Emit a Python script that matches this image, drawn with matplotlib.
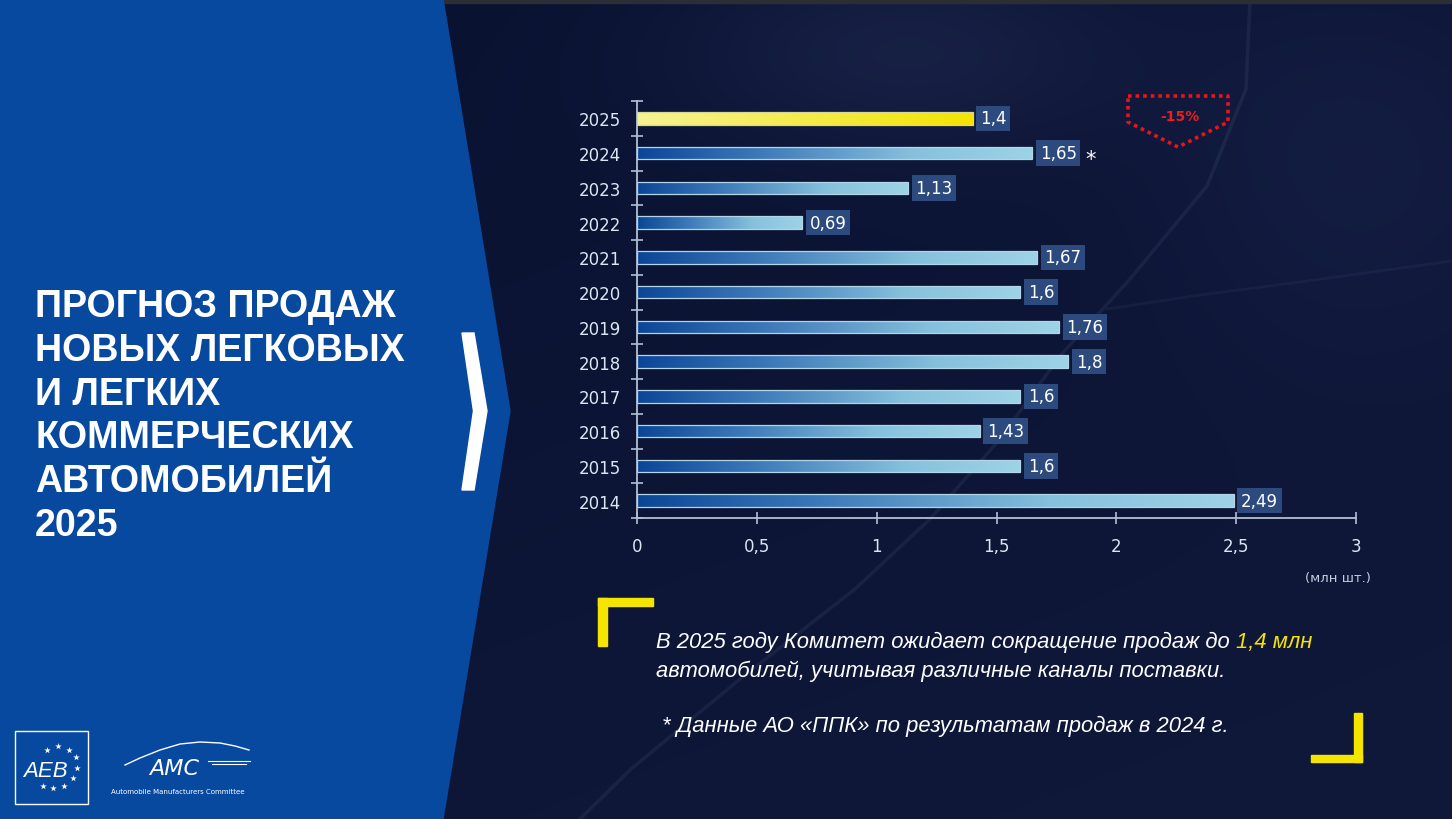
import numpy as np
import matplotlib
matplotlib.use('Agg')
import matplotlib.pyplot as plt
from matplotlib.patches import Polygon, Rectangle
from matplotlib.colors import LinearSegmentedColormap
from matplotlib.lines import Line2D

# ---------------- data ----------------
years = ['2025', '2024', '2023', '2022', '2021', '2020', '2019', '2018', '2017', '2016', '2015', '2014']
values = [1.4, 1.65, 1.13, 0.69, 1.67, 1.6, 1.76, 1.8, 1.6, 1.43, 1.6, 2.49]
value_labels = ['1,4', '1,65', '1,13', '0,69', '1,67', '1,6', '1,76', '1,8', '1,6', '1,43', '1,6', '2,49']
highlight_year = '2025'
starred_year = '2024'
x_ticks = [0, 0.5, 1, 1.5, 2, 2.5, 3]
x_tick_labels = ['0', '0,5', '1', '1,5', '2', '2,5', '3']
title_lines = ['ПРОГНОЗ ПРОДАЖ', 'НОВЫХ ЛЕГКОВЫХ', 'И ЛЕГКИХ', 'КОММЕРЧЕСКИХ', 'АВТОМОБИЛЕЙ', '2025']
change_label = '-15%'
unit_label = '(млн шт.)'
note1_white = 'В 2025 году Комитет ожидает сокращение продаж до'
note1_yellow = '1,4 млн'
note2 = 'автомобилей, учитывая различные каналы поставки.'
note3 = '* Данные АО «ППК» по результатам продаж в 2024 г.'

W, H = 1452, 820
fig = plt.figure(figsize=(W / 100, H / 100), dpi=100)
bg = fig.add_axes([0, 0, 1, 1])
bg.set_xlim(0, W)
bg.set_ylim(H, 0)
bg.axis('off')

# ---------------- background ----------------
yy, xx = np.mgrid[0:H:4, 0:W:4].astype(float)
base = np.array([0.035, 0.068, 0.19])
img = np.ones(yy.shape + (3,)) * base
img += ((yy / H) * 0.6 + (xx / W) * 0.4)[..., None] * np.array([0.03, 0.03, 0.04])
g = np.exp(-(((xx - 900) / 220) ** 2 + ((yy - 50) / 100) ** 2))
img += g[..., None] * np.array([0.045, 0.05, 0.065])
g2 = np.exp(-(((xx - 1350) / 200) ** 2 + ((yy - 150) / 200) ** 2))
img += g2[..., None] * np.array([0.025, 0.03, 0.045])
bg.imshow(np.clip(img, 0, 1), extent=[0, W, H, 0], aspect='auto', interpolation='bilinear', zorder=0)

# faint streaks
sx = [1250, 1246, 1207, 1130, 1060, 1000, 930, 855, 740, 631, 580]
sy = [0, 90, 187, 280, 357, 440, 520, 590, 680, 770, 820]
bg.plot(sx, sy, color=(0.55, 0.65, 0.8), alpha=0.09, lw=2.5, zorder=0.5)
bg.plot([1107, 1200, 1300, 1452], [310, 296, 283, 262], color=(0.55, 0.65, 0.8), alpha=0.06, lw=2, zorder=0.5)
bg.add_patch(Rectangle((443, 0), W - 443, 4, color='#2b2e35', zorder=0.6))

# left panel
bg.add_patch(Polygon([(0, 0), (443, 0), (510, 412), (443, 820), (0, 820)], closed=True,
                     color='#0849a0', zorder=1))
bg.add_patch(Polygon([(462, 334), (474, 334), (487, 412), (474, 491), (462, 491), (473.5, 412)],
                     closed=True, color='white', zorder=2))

# title
title_texts = []
baselines = [317, 361, 405, 448, 492, 536]
for ln, b in zip(title_lines, baselines):
    t = bg.text(35, b, ln, fontsize=27, fontweight='bold', color='white',
                family=['Liberation Sans', 'DejaVu Sans'], va='baseline', ha='left', zorder=3)
    title_texts.append(t)

# logos
bg.add_patch(Rectangle((15, 732), 73, 73, fill=False, ec='white', lw=1, zorder=3))
bg.text(45, 777, 'AEB', fontsize=16, style='italic', color='white',
        family='Liberation Sans', ha='center', va='baseline', zorder=3)
star_x = [47, 58, 69, 76, 77, 73, 64, 53, 43]
star_y = [751, 747, 751, 758, 769, 779, 787, 789, 787]
bg.scatter(star_x, star_y, marker='*', s=24, color='white', linewidths=0, zorder=3)
bg.plot([125, 140, 160, 180, 200, 220, 235, 249], [766, 759, 751, 745, 743, 744, 747, 751],
        color='white', lw=1, zorder=3)
bg.plot([208, 250], [762, 762], color='white', lw=0.8, zorder=3)
bg.plot([212, 246], [765, 765], color='white', lw=0.8, zorder=3)
bg.text(174, 775, 'AMC', fontsize=16, style='italic', color='white',
        family='DejaVu Sans', fontweight='light', ha='center', va='baseline', zorder=3)
bg.text(178, 792, 'Automobile Manufacturers Committee', fontsize=5, color='white',
        family='DejaVu Sans', ha='center', va='center', zorder=3)

# -15% badge
bx = [1128, 1228, 1228, 1178, 1128, 1128]
by = [97, 97, 123, 148, 123, 97]
bg.add_line(Line2D(bx, by, color='#e8141c', lw=2.6, linestyle=(0, (1, 1.1)), zorder=3))
bg.text(1180, 117, change_label, fontsize=10, fontweight='bold', color='#f01c1c',
        family='DejaVu Sans', ha='center', va='center', zorder=3)

# unit label
bg.text(1338, 579, unit_label, fontsize=9.5, color='#c5cedb', family='DejaVu Sans',
        ha='center', va='center', zorder=3)

# yellow brackets
ycol = '#f5e400'
for (x0, y0, w, h) in [(598, 599, 8.5, 48), (598, 599, 55, 7.5), (1354, 714, 8, 49), (1311, 756, 51, 7)]:
    bg.add_patch(Rectangle((x0, y0), w, h, color=ycol, zorder=3))

# notes
fam_note = ['Liberation Sans', 'DejaVu Sans']
n1w = bg.text(656, 648, note1_white, fontsize=14, style='italic', color='white', family=fam_note,
              ha='left', va='baseline', zorder=3)
n1y = bg.text(656, 648, note1_yellow, fontsize=14, style='italic', color=ycol, family=fam_note,
              ha='left', va='baseline', zorder=3)
n2 = bg.text(656, 677, note2, fontsize=14, style='italic', color='white', family=fam_note,
             ha='left', va='baseline', zorder=3)
n3 = bg.text(662, 732, note3, fontsize=14, style='italic', color='white', family=fam_note,
             ha='left', va='baseline', zorder=3)

# ---------------- chart ----------------
ax = fig.add_axes([637 / W, 1 - 519 / H, (1356 - 637) / W, (519 - 102) / H])
ax.patch.set_alpha(0)
pos = np.arange(len(years))
bar_h = 0.36
blue_cm = LinearSegmentedColormap.from_list('b', [(0, '#0a4696'), (0.3, '#3b78b8'),
                                                   (0.7, '#86c1dc'), (1, '#9dd3e6')])
yel_cm = LinearSegmentedColormap.from_list('y', [(0, '#f6f394'), (1, '#f3e400')])
grad = np.linspace(0, 1, 256)[None, :]
bars = ax.barh(pos, values, height=bar_h, color='none', edgecolor='#b4d4e8', linewidth=0.9, zorder=3)
for p, v, yr, bar in zip(pos, values, years, bars):
    cm = yel_cm if yr == highlight_year else blue_cm
    if yr == highlight_year:
        bar.set_edgecolor('#d8d890')
    im = ax.imshow(grad, extent=[0, v, p + bar_h / 2, p - bar_h / 2], cmap=cm, aspect='auto',
                   interpolation='bicubic', zorder=2)
    im.set_clip_path(bar)

for p, v, lab, yr in zip(pos, values, value_labels, years):
    ax.annotate(lab, xy=(v, p), xytext=(5.3, 0), textcoords='offset points', ha='left', va='center',
                color='white', fontsize=12, family='DejaVu Sans',
                bbox=dict(boxstyle='square,pad=0.22', fc='#2c4a7e', ec='none'), zorder=5)
    if yr == starred_year:
        ax.annotate('*', xy=(v, p), xytext=(42, -4), textcoords='offset points', ha='center',
                    va='center', color='white', fontsize=15, style='italic', zorder=5)

ax.set_xlim(0, 3)
ax.set_ylim(len(years) - 0.5, -0.5)
axcol = '#b0c0d4'
for s in ['top', 'right']:
    ax.spines[s].set_visible(False)
for s in ['left', 'bottom']:
    ax.spines[s].set_color(axcol)
    ax.spines[s].set_linewidth(1.3)
ax.set_yticks(pos)
ax.set_yticklabels(years)
ax.set_yticks(np.arange(-0.5, len(years), 1), minor=True)
ax.tick_params(axis='y', which='major', length=0, pad=11.5, labelcolor='#dce6f2', labelsize=12)
ax.tick_params(axis='y', which='minor', length=8.5, width=1.2, direction='inout', color=axcol)
ax.set_xticks(x_ticks)
ax.set_xticklabels(x_tick_labels)
ax.tick_params(axis='x', length=8, width=1.2, direction='inout', color=axcol, pad=10,
               labelcolor='#dce6f2', labelsize=12)
for lbl in ax.get_xticklabels() + ax.get_yticklabels():
    lbl.set_family('DejaVu Sans')

# ---------------- fit text widths ----------------
fig.canvas.draw()
r = fig.canvas.get_renderer()
w0 = title_texts[0].get_window_extent(r).width
fs_t = 27 * 361 / w0
for t in title_texts:
    t.set_fontsize(fs_t)

ww = n1w.get_window_extent(r).width
wy = n1y.get_window_extent(r).width
space = 0.278 * 14 * 100 / 72
fs_n = 14 * 657 / (ww + space + wy)
for t in (n1w, n1y, n2, n3):
    t.set_fontsize(fs_n)
fig.canvas.draw()
ww = n1w.get_window_extent(r).width
n1y.set_x(656 + ww + 0.278 * fs_n * 100 / 72)

fig.savefig('out.png', dpi=100)
